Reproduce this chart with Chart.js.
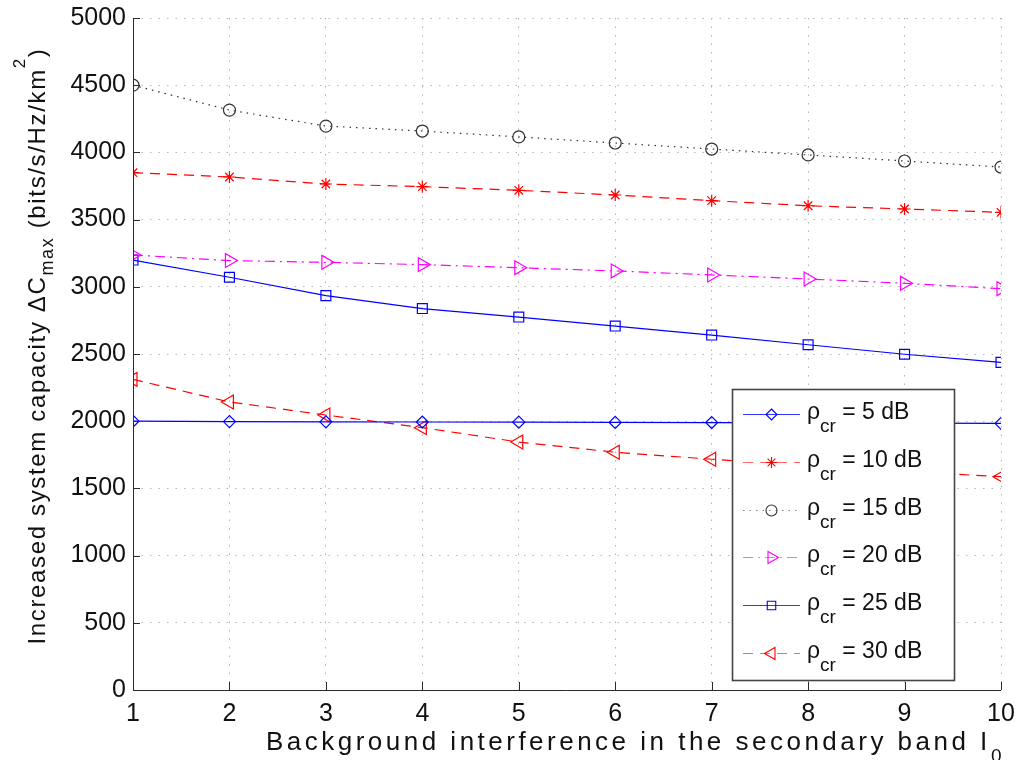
<!DOCTYPE html>
<html>
<head>
<meta charset="utf-8">
<script src="https://cdn.jsdelivr.net/npm/chart.js@4/dist/chart.umd.min.js"></script>
<style>
html,body{margin:0;padding:0;background:#fff;}
canvas{display:block;}
</style>
</head>
<body>
<canvas id="c" width="1018" height="760"></canvas>
<script>
// ---------------- data ----------------
const xValues = [1, 2, 3, 4, 5, 6, 7, 8, 9, 10];
const xTicks = [1, 2, 3, 4, 5, 6, 7, 8, 9, 10];
const yTicks = [0, 500, 1000, 1500, 2000, 2500, 3000, 3500, 4000, 4500, 5000];
const seriesNames = ['5 dB', '10 dB', '15 dB', '20 dB', '25 dB', '30 dB'];
const rho5  = [2000, 1997, 1995, 1994, 1993, 1991, 1990, 1988, 1986, 1984];
const rho10 = [3849, 3817, 3765, 3745, 3718, 3683, 3641, 3603, 3579, 3554];
const rho15 = [4500, 4315, 4196, 4159, 4115, 4070, 4025, 3981, 3936, 3891];
const rho20 = [3237, 3195, 3182, 3165, 3142, 3118, 3088, 3058, 3026, 2986];
const rho25 = [3199, 3071, 2934, 2838, 2775, 2708, 2641, 2569, 2498, 2438];
const rho30 = [2311, 2143, 2046, 1952, 1845, 1769, 1717, 1668, 1626, 1587];
const xTitle = 'Background interference in the secondary band I';
const xTitleSub = '0';
const yTitleMain = 'Increased system capacity \u0394C';
const yTitleSub = 'max';
const yTitleUnit = ' (bits/s/Hz/km';
const yTitleSup = '2';

// ---------------- styles ----------------
const FONT = '"Liberation Sans", Arial, Helvetica, sans-serif';
const styles = [
  {color: '#0000ff', dash: [], point: 'rectRot', r: 6, rot: 0},
  {color: '#ff0000', dash: [10, 7], point: 'star', r: 6, rot: 0},
  {color: '#333333', dash: [1.5, 5], point: 'circle', r: 6, rot: 0},
  {color: '#ff00ff', dash: [10, 5, 2, 5], point: 'triangle', r: 8, rot: 90},
  {color: '#0000ff', dash: [], point: 'rect', r: 7, rot: 0},
  {color: '#ff0000', dash: [10, 7], point: 'triangle', r: 8, rot: -90}
];
const seriesData = [rho5, rho10, rho15, rho20, rho25, rho30];

const datasets = seriesData.map((arr, i) => ({
  label: '\u03c1cr = ' + seriesNames[i],
  data: xValues.map((x, k) => ({x: x, y: arr[k]})),
  borderColor: styles[i].color,
  borderWidth: 1.2,
  borderDash: styles[i].dash,
  pointStyle: styles[i].point,
  pointRadius: styles[i].r,
  pointRotation: styles[i].rot,
  pointBorderColor: styles[i].color,
  pointBackgroundColor: 'rgba(0,0,0,0)',
  pointBorderWidth: 1.2,
  pointHoverRadius: styles[i].r,
  fill: false,
  tension: 0
}));

// ---------------- helpers ----------------
function drawMarker(ctx, st, x, y) {
  const r = st.r;
  ctx.save();
  ctx.setLineDash([]);
  ctx.strokeStyle = st.color;
  ctx.lineWidth = 1.1;
  ctx.beginPath();
  if (st.point === 'rectRot') {
    ctx.moveTo(x, y - r); ctx.lineTo(x + r, y); ctx.lineTo(x, y + r); ctx.lineTo(x - r, y); ctx.closePath();
  } else if (st.point === 'rect') {
    const h = r * Math.SQRT1_2;
    ctx.rect(x - h, y - h, 2 * h, 2 * h);
  } else if (st.point === 'circle') {
    ctx.arc(x, y, r, 0, Math.PI * 2);
  } else if (st.point === 'star') {
    for (let k = 0; k < 4; k++) {
      const a = k * Math.PI / 4;
      ctx.moveTo(x - Math.cos(a) * r, y - Math.sin(a) * r);
      ctx.lineTo(x + Math.cos(a) * r, y + Math.sin(a) * r);
    }
  } else if (st.point === 'triangle') {
    let a = st.rot * Math.PI / 180;
    ctx.moveTo(x + Math.sin(a) * r, y - Math.cos(a) * r);
    a += 2 * Math.PI / 3;
    ctx.lineTo(x + Math.sin(a) * r, y - Math.cos(a) * r);
    a += 2 * Math.PI / 3;
    ctx.lineTo(x + Math.sin(a) * r, y - Math.cos(a) * r);
    ctx.closePath();
  }
  ctx.stroke();
  ctx.restore();
}

// rich text: segments [{t, size, dy}] drawn along local x from x0, fitted to length target
function drawRich(ctx, segs, x0, y0, target) {
  let base = 0, n = 0;
  const hasLS = ('letterSpacing' in ctx);
  segs.forEach(s => {
    ctx.font = s.size + 'px ' + FONT;
    if (hasLS) ctx.letterSpacing = '0px';
    s.w = ctx.measureText(s.t).width;
    base += s.w; n += s.t.length;
  });
  let sp = target ? (target - base) / n : 0;
  if (!hasLS || sp < 0) sp = 0;
  let x = x0;
  segs.forEach(s => {
    ctx.font = s.size + 'px ' + FONT;
    if (hasLS) ctx.letterSpacing = sp.toFixed(2) + 'px';
    ctx.fillText(s.t, x, y0 + s.dy);
    x += s.w + sp * s.t.length;
  });
  if (hasLS) ctx.letterSpacing = '0px';
  return x - x0;
}

const decorPlugin = {
  id: 'decor',
  afterDatasetsDraw(chart) {
    const ctx = chart.ctx;
    const xs = chart.scales.x, ys = chart.scales.y;
    const L = chart.chartArea.left, R = chart.chartArea.right;
    const T = chart.chartArea.top, B = chart.chartArea.bottom;
    ctx.save();
    ctx.strokeStyle = '#2b2b2b';
    ctx.lineWidth = 1;
    ctx.setLineDash([]);
    ctx.beginPath();
    ctx.moveTo(L + 0.5, T); ctx.lineTo(L + 0.5, B + 0.5);
    ctx.lineTo(R, B + 0.5);
    yTicks.forEach(v => {
      const py = Math.round(ys.getPixelForValue(v)) + 0.5;
      ctx.moveTo(L, py); ctx.lineTo(L + 7, py);
    });
    xTicks.forEach(v => {
      const px = Math.round(xs.getPixelForValue(v)) + 0.5;
      ctx.moveTo(px, B); ctx.lineTo(px, B - 8);
    });
    ctx.stroke();
    ctx.restore();
  },
  afterDraw(chart) {
    const ctx = chart.ctx;
    ctx.save();
    ctx.fillStyle = '#111';
    ctx.textBaseline = 'alphabetic';
    ctx.textAlign = 'left';

    // ---- legend ----
    const bx = 732, by = 389, bw = 222, bh = 291;
    ctx.fillStyle = '#fff';
    ctx.fillRect(bx, by, bw, bh);
    ctx.strokeStyle = '#444';
    ctx.lineWidth = 1.6;
    ctx.setLineDash([]);
    ctx.strokeRect(bx + 0.5, by + 0.5, bw, bh);
    const rowStep = 47.8;
    seriesNames.forEach((name, i) => {
      const st = styles[i];
      const base = 419 + i * rowStep;
      const ly = Math.round(base - 5) + 0.5;
      ctx.save();
      ctx.strokeStyle = st.color;
      ctx.globalAlpha = (st.dash.length ? 0.6 : 0.8);
      ctx.lineWidth = 1.2;
      ctx.setLineDash(st.dash);
      ctx.beginPath();
      ctx.moveTo(743, ly); ctx.lineTo(800, ly);
      ctx.stroke();
      ctx.restore();
      drawMarker(ctx, {color: st.color, point: st.point, r: st.point === 'triangle' ? 7 : (st.point === 'rect' ? 6 : 5.5), rot: st.rot}, 771.5, ly);
      ctx.fillStyle = '#111';
      drawRich(ctx, [
        {t: '\u03c1', size: 23, dy: 0},
        {t: 'cr', size: 19, dy: 13},
        {t: ' = ' + name, size: 23, dy: 0}
      ], 807, base, 0);
    });

    // ---- x axis title ----
    ctx.fillStyle = '#111';
    drawRich(ctx, [
      {t: xTitle, size: 26, dy: 0},
      {t: xTitleSub, size: 19, dy: 12}
    ], 266, 750, 739);

    // ---- y axis title ----
    ctx.save();
    const yLen = 597, yCenter = 346;
    ctx.translate(45, yCenter);
    ctx.rotate(-Math.PI / 2);
    drawRich(ctx, [
      {t: yTitleMain, size: 24, dy: 0},
      {t: yTitleSub, size: 18, dy: 8},
      {t: yTitleUnit, size: 24, dy: 0},
      {t: yTitleSup, size: 17, dy: -20},
      {t: ')', size: 24, dy: 0}
    ], -yLen / 2, 0, yLen);
    ctx.restore();
    ctx.restore();
  }
};

new Chart(document.getElementById('c'), {
  type: 'line',
  data: {datasets: datasets},
  options: {
    responsive: false,
    animation: false,
    devicePixelRatio: 1,
    layout: {padding: {top: 18, right: 17, left: 0, bottom: 0}},
    plugins: {legend: {display: false}, tooltip: {enabled: false}, title: {display: false}},
    scales: {
      x: {
        type: 'linear',
        min: 1, max: 10,
        afterFit(scale) { scale.height = 70; scale.paddingLeft = 0; scale.paddingRight = 0; },
        afterBuildTicks(scale) { scale.ticks = xTicks.map(v => ({value: v})); },
        ticks: {stepSize: 1, padding: 9, color: '#111', font: {family: FONT, size: 25}, maxRotation: 0,
                callback: v => String(v)},
        grid: {color: '#b4b4b4', lineWidth: 1, drawTicks: false},
        border: {display: false, dash: [1.5, 7]}
      },
      y: {
        type: 'linear',
        min: 0, max: 5000,
        afterFit(scale) { scale.width = 133; scale.paddingTop = 0; scale.paddingBottom = 0; },
        afterBuildTicks(scale) { scale.ticks = yTicks.map(v => ({value: v})); },
        ticks: {stepSize: 500, padding: 7, color: '#111', font: {family: FONT, size: 25},
                callback: v => String(v)},
        grid: {color: '#b4b4b4', lineWidth: 1, drawTicks: false},
        border: {display: false, dash: [1.5, 7]}
      }
    }
  },
  plugins: [decorPlugin]
});
</script>
</body>
</html>
